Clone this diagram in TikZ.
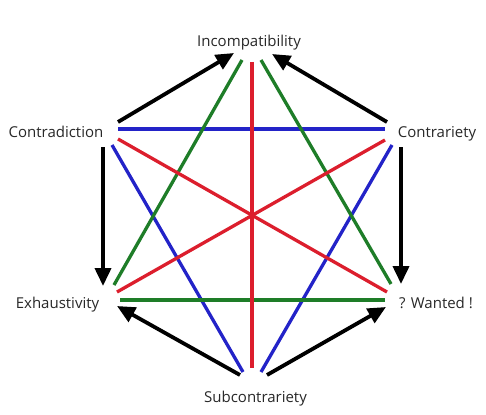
\documentclass[tikz,border=0pt]{standalone}
\usepackage{fontspec}
\setmainfont{Open Sans}
\usetikzlibrary{arrows.meta}
\definecolor{hblue}{RGB}{35,35,200}
\definecolor{hred}{RGB}{220,30,45}
\definecolor{hgreen}{RGB}{30,125,40}
\definecolor{htext}{RGB}{40,40,40}
\begin{document}
\begin{tikzpicture}[x=1pt,y=-1pt,
  lbl/.style={font=\fontsize{15}{18}\selectfont, text=htext, inner sep=0pt, anchor=base},
  opp/.style={line width=3.3pt},
  imp/.style={line width=3.8pt, -{Triangle[length=18pt,width=16pt]}}]
\useasboundingbox (0,0) rectangle (486,414);
\fill[white] (0,0) rectangle (486,414);
% labels
\node[lbl] (inc) at (249,47) {Incompatibility};
\node[lbl] (ctd) at (56,137) {Contradiction};
\node[lbl] (ctr) at (437,137) {Contrariety};
\node[lbl] (exh) at (57.5,308) {Exhaustivity};
\node[lbl] (wnt) at (436,308) {? Wanted !};
\node[lbl] (sub) at (255.5,402) {Subcontrariety};
% endpoints
\coordinate (incGL) at (242,60);
\coordinate (incR) at (252,62);
\coordinate (incGR) at (261,60);
\coordinate (ctdB) at (118,129);
\coordinate (ctdR) at (118,139);
\coordinate (ctdD) at (112,145);
\coordinate (ctrB) at (385,129);
\coordinate (ctrR) at (385,140);
\coordinate (ctrD) at (392,145);
\coordinate (exhG) at (120,300);
\coordinate (exhR) at (117,292);
\coordinate (exhD) at (114,285);
\coordinate (wntG) at (385,300);
\coordinate (wntR) at (387,292);
\coordinate (wntD) at (391,284);
\coordinate (subR) at (252,368);
\coordinate (subL) at (243,372);
\coordinate (subRR) at (261,372);
% arrow ends
\coordinate (a1s) at (118,122);
\coordinate (a1e) at (234,53);
\coordinate (a2s) at (387,122);
\coordinate (a2e) at (272,54);
\coordinate (a3s) at (103,147);
\coordinate (a3e) at (103,286);
\coordinate (a4s) at (401,147);
\coordinate (a4e) at (401,284);
\coordinate (a5s) at (240,375);
\coordinate (a5e) at (117,306);
\coordinate (a6s) at (267,375);
\coordinate (a6e) at (386,307);
% blue
\draw[opp,hblue] (ctdB) -- (ctrB);
\draw[opp,hblue] (ctdD) -- (subL);
\draw[opp,hblue] (ctrD) -- (subRR);
% green
\draw[opp,hgreen] (exhG) -- (wntG);
\draw[opp,hgreen] (exhD) -- (incGL);
\draw[opp,hgreen] (wntD) -- (incGR);
% red
\draw[opp,hred] (incR) -- (subR);
\draw[opp,hred] (ctdR) -- (wntR);
\draw[opp,hred] (ctrR) -- (exhR);
% implication arrows
\draw[imp] (a1s) -- (a1e);
\draw[imp] (a2s) -- (a2e);
\draw[imp] (a3s) -- (a3e);
\draw[imp] (a4s) -- (a4e);
\draw[imp] (a5s) -- (a5e);
\draw[imp] (a6s) -- (a6e);
\end{tikzpicture}
\end{document}
